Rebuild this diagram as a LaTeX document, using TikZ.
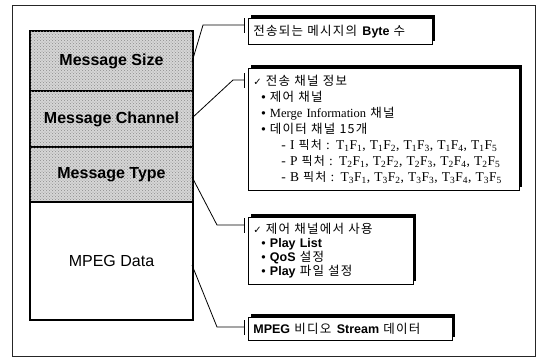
\documentclass[tikz,border=0pt]{standalone}
\usepackage{fontspec}
\setmainfont{Liberation Sans}
\newfontfamily\kr{Noto Sans CJK KR}[LetterSpace=10]
\newfontfamily\tmr{Liberation Serif}
\newfontfamily\djv{DejaVu Sans}
\usetikzlibrary{shadows,patterns}
\newcommand\TF[2]{T\textsubscript{#1}F\textsubscript{#2}}
\begin{document}
\begin{tikzpicture}[x=1pt,y=-1pt,
  layer/.style={draw, line width=1.2pt, minimum width=163pt, inner sep=0pt,
    font=\bfseries\fontsize{16}{18}\selectfont},
  grain/.style={fill=black!16, postaction={pattern=crosshatch dots, pattern color=black!45}},
  note/.style={draw, line width=0.8pt, fill=white, anchor=north west, inner ysep=0pt,
    inner xsep=5pt, align=left,
    drop shadow={shadow xshift=3pt, shadow yshift=3pt, fill=black, opacity=1}},
  link/.style={line width=0.8pt},
  bar/.style={line width=0.9pt}
]
\useasboundingbox (0,0) rectangle (540,360);
\draw[line width=0.7pt, black!85] (12,5) rectangle (535,356);

% layered message
\node[layer, grain, minimum height=60pt] (size) at (111.5,61) {Message Size};
\node[layer, grain, minimum height=56pt] (channel) at (111.5,119) {Message Channel};
\node[layer, grain, minimum height=55pt] (type) at (111.5,174.5) {Message Type};
\node[layer, minimum height=118pt, font=\fontsize{16}{18}\selectfont] (data) at (111.5,261) {MPEG Data};

% notes
\node[note, text width=174pt, minimum height=26pt, font=\fontsize{12.5}{14}\selectfont] (b1) at (248,18)
  {{\kr 전송되는 메시지의} \textbf{Byte} {\kr 수}};

\node[note, text width=261pt, minimum height=122pt, font=\fontsize{12.5}{16}\selectfont] (b2) at (248,68)
  {{\djv\fontsize{10}{16}\selectfont ✓} {\kr 전송 채널 정보}\\
   \hspace*{8pt}• {\kr 제어 채널}\\
   \hspace*{8pt}• {\tmr Merge Information} {\kr 채널}\\
   \hspace*{8pt}• {\kr 데이터 채널 15개}\\
   \hspace*{28pt}{\tmr\fontsize{13.5}{16}\selectfont - I {\kr\fontsize{12}{16}\selectfont 픽처} : \TF11, \TF12, \TF13, \TF14, \TF15}\\
   \hspace*{28pt}{\tmr\fontsize{13.5}{16}\selectfont - P {\kr\fontsize{12}{16}\selectfont 픽처} : \TF21, \TF22, \TF23, \TF24, \TF25}\\
   \hspace*{28pt}{\tmr\fontsize{13.5}{16}\selectfont - B {\kr\fontsize{12}{16}\selectfont 픽처} : \TF31, \TF32, \TF33, \TF34, \TF35}};

\node[note, text width=155pt, minimum height=67pt, font=\fontsize{12.5}{14}\selectfont] (b3) at (248,217)
  {{\djv\fontsize{10}{14}\selectfont ✓} {\kr 제어 채널에서 사용}\\
   \hspace*{8pt}• \textbf{Play List}\\
   \hspace*{8pt}• \textbf{QoS} {\kr 설정}\\
   \hspace*{8pt}• \textbf{Play} {\kr 파일 설정}};

\node[note, text width=194pt, minimum height=23pt, font=\fontsize{12.5}{14}\selectfont] (b4) at (248,317)
  {\textbf{MPEG} {\kr 비디오} \textbf{Stream} {\kr 데이터}};

% connector points
\coordinate (s1) at (192,62);  \coordinate (k1) at (203,25);  \coordinate (e1) at (244,25);
\coordinate (s2) at (192,118); \coordinate (k2) at (233,80);  \coordinate (e2) at (244,80);
\coordinate (s3) at (192,177); \coordinate (k3) at (217,225); \coordinate (e3) at (244,225);
\coordinate (s4) at (192,265); \coordinate (k4) at (217,327); \coordinate (e4) at (244,327);

\foreach \i in {1,2,3,4}{
  \draw[link] (s\i) -- (k\i) -- (e\i);
  \draw[bar] ([yshift=-7.5pt]e\i) -- ([yshift=7.5pt]e\i);
}
\end{tikzpicture}
\end{document}
